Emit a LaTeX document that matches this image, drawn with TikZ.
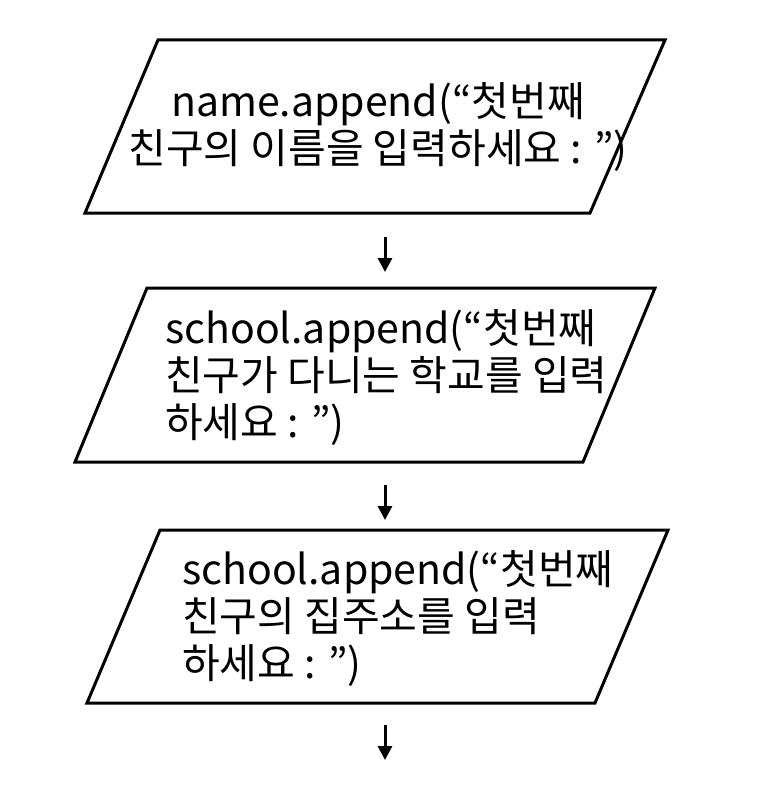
\documentclass[tikz,border=0pt]{standalone}
\usepackage{fontspec}
\setmainfont{Noto Sans CJK KR}
\usetikzlibrary{arrows.meta}
\begin{document}
\begin{tikzpicture}[x=1pt,y=-1pt,
  para/.style={draw,line width=3pt,line join=miter},
  txt/.style={inner sep=0pt,font=\fontsize{41}{47}\selectfont},
  arr/.style={line width=3pt,-{Triangle[length=14pt,width=14pt]}}]
\useasboundingbox (0,0) rectangle (770,792);
\draw[para] (158,40) -- (665,40) -- (590,213) -- (85,213) -- cycle;
\draw[para] (147,288) -- (655,288) -- (583,462) -- (75,462) -- cycle;
\draw[para] (160,530) -- (668,530) -- (595,703) -- (87,703) -- cycle;
\node[txt,align=center] (t1) at (378,127) {name.append(“첫번째\\친구의 이름을 입력하세요 : ”)};
\node[txt,align=left,anchor=west] (t2) at (165,377) {school.append(“첫번째\\친구가 다니는 학교를 입력\\하세요 : ”)};
\node[txt,align=left,anchor=west] (t3) at (182,618) {school.append(“첫번째\\친구의 집주소를 입력\\하세요 : ”)};
\coordinate (a1) at (385,237); \coordinate (b1) at (385,272);
\coordinate (a2) at (385,485); \coordinate (b2) at (385,520);
\coordinate (a3) at (385,725); \coordinate (b3) at (385,760);
\draw[arr] (a1) -- (b1);
\draw[arr] (a2) -- (b2);
\draw[arr] (a3) -- (b3);
\end{tikzpicture}
\end{document}
